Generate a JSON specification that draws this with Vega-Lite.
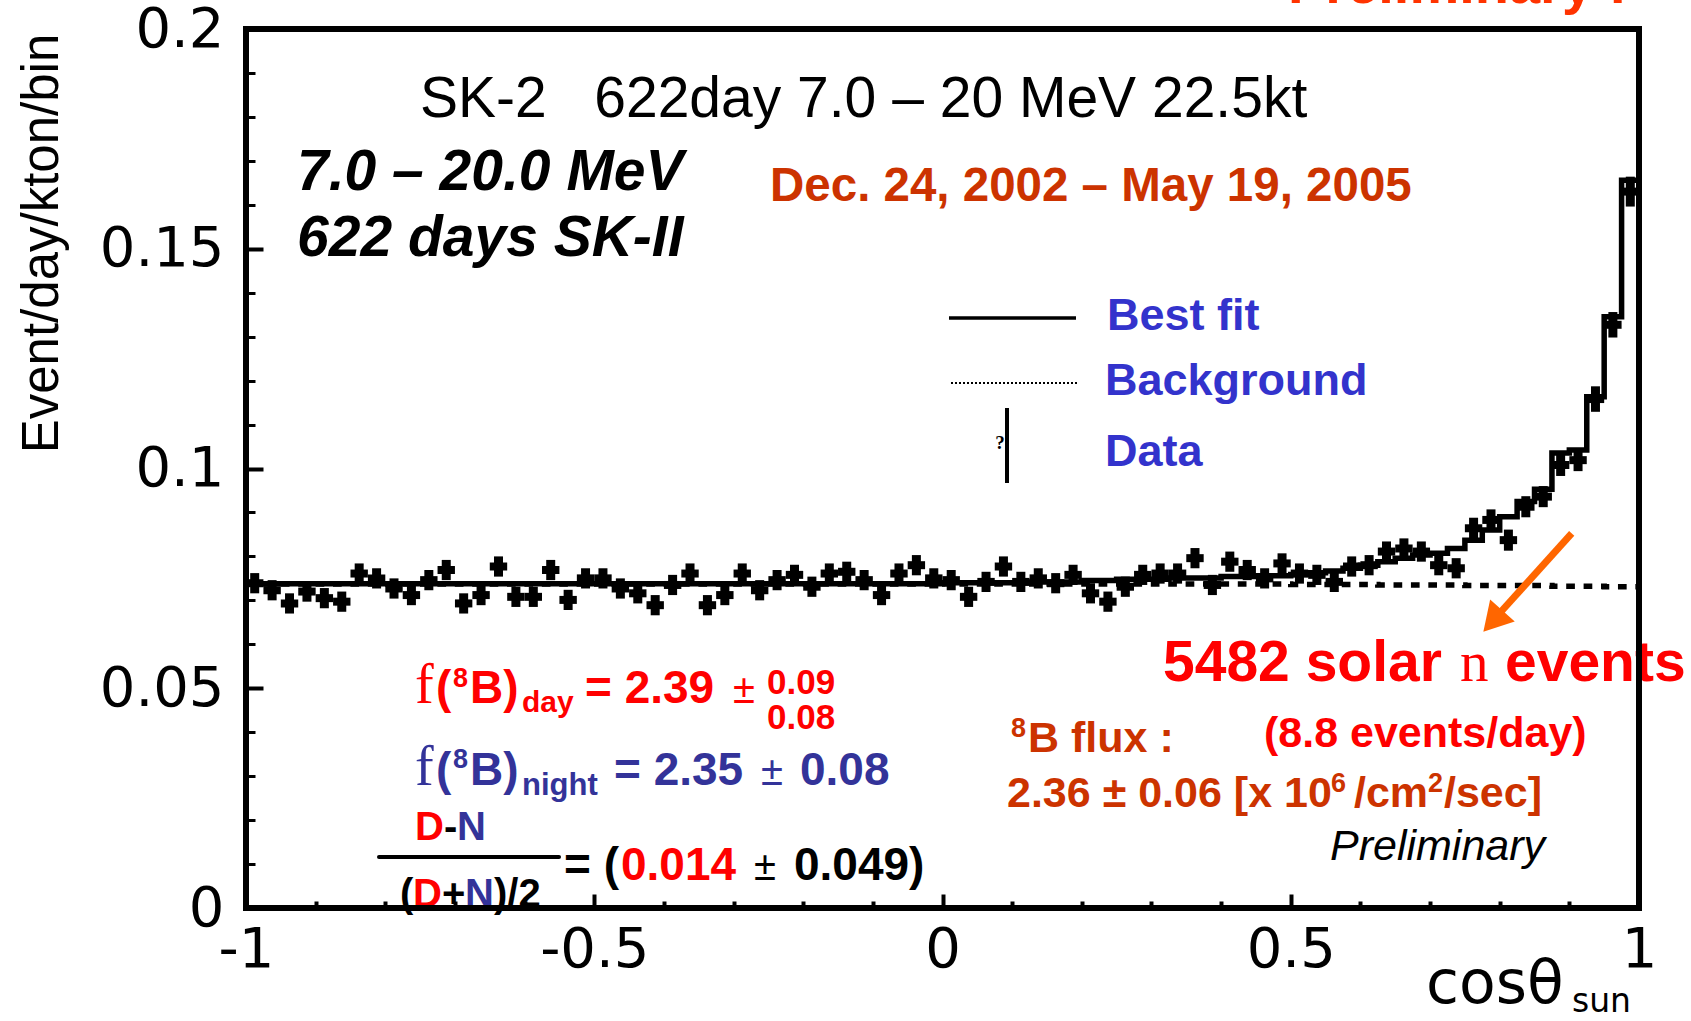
{
  "$schema": "https://vega.github.io/schema/vega-lite/v6.json",
  "width": 1393,
  "height": 879,
  "autosize": {"type": "none"},
  "padding": {"left": 246, "top": 29, "right": 52, "bottom": 113},
  "background": "white",
  "config": {"view": {"stroke": null}},
  "resolve": {"axis": {"x": "independent", "y": "independent"}},
  "datasets": {
    "bins": [
      {"c": -0.9875, "y": 0.0739, "lo": 0.0716, "hi": 0.0762},
      {"c": -0.9625, "y": 0.0723, "lo": 0.0700, "hi": 0.0746},
      {"c": -0.9375, "y": 0.0693, "lo": 0.0670, "hi": 0.0716},
      {"c": -0.9125, "y": 0.0720, "lo": 0.0697, "hi": 0.0743},
      {"c": -0.8875, "y": 0.0705, "lo": 0.0682, "hi": 0.0728},
      {"c": -0.8625, "y": 0.0697, "lo": 0.0674, "hi": 0.0720},
      {"c": -0.8375, "y": 0.0761, "lo": 0.0738, "hi": 0.0784},
      {"c": -0.8125, "y": 0.0750, "lo": 0.0727, "hi": 0.0773},
      {"c": -0.7875, "y": 0.0727, "lo": 0.0704, "hi": 0.0750},
      {"c": -0.7625, "y": 0.0712, "lo": 0.0689, "hi": 0.0735},
      {"c": -0.7375, "y": 0.0746, "lo": 0.0723, "hi": 0.0769},
      {"c": -0.7125, "y": 0.0769, "lo": 0.0746, "hi": 0.0792},
      {"c": -0.6875, "y": 0.0693, "lo": 0.0670, "hi": 0.0716},
      {"c": -0.6625, "y": 0.0712, "lo": 0.0689, "hi": 0.0735},
      {"c": -0.6375, "y": 0.0777, "lo": 0.0754, "hi": 0.0800},
      {"c": -0.6125, "y": 0.0708, "lo": 0.0685, "hi": 0.0731},
      {"c": -0.5875, "y": 0.0708, "lo": 0.0685, "hi": 0.0731},
      {"c": -0.5625, "y": 0.0769, "lo": 0.0746, "hi": 0.0792},
      {"c": -0.5375, "y": 0.0701, "lo": 0.0678, "hi": 0.0724},
      {"c": -0.5125, "y": 0.0750, "lo": 0.0727, "hi": 0.0773},
      {"c": -0.4875, "y": 0.0750, "lo": 0.0727, "hi": 0.0773},
      {"c": -0.4625, "y": 0.0727, "lo": 0.0704, "hi": 0.0750},
      {"c": -0.4375, "y": 0.0716, "lo": 0.0693, "hi": 0.0739},
      {"c": -0.4125, "y": 0.0689, "lo": 0.0666, "hi": 0.0712},
      {"c": -0.3875, "y": 0.0735, "lo": 0.0712, "hi": 0.0758},
      {"c": -0.3625, "y": 0.0761, "lo": 0.0738, "hi": 0.0784},
      {"c": -0.3375, "y": 0.0689, "lo": 0.0666, "hi": 0.0712},
      {"c": -0.3125, "y": 0.0712, "lo": 0.0689, "hi": 0.0735},
      {"c": -0.2875, "y": 0.0761, "lo": 0.0738, "hi": 0.0784},
      {"c": -0.2625, "y": 0.0723, "lo": 0.0700, "hi": 0.0746},
      {"c": -0.2375, "y": 0.0746, "lo": 0.0723, "hi": 0.0769},
      {"c": -0.2125, "y": 0.0758, "lo": 0.0735, "hi": 0.0781},
      {"c": -0.1875, "y": 0.0731, "lo": 0.0708, "hi": 0.0754},
      {"c": -0.1625, "y": 0.0761, "lo": 0.0738, "hi": 0.0784},
      {"c": -0.1375, "y": 0.0765, "lo": 0.0742, "hi": 0.0788},
      {"c": -0.1125, "y": 0.0746, "lo": 0.0723, "hi": 0.0769},
      {"c": -0.0875, "y": 0.0712, "lo": 0.0689, "hi": 0.0735},
      {"c": -0.0625, "y": 0.0761, "lo": 0.0738, "hi": 0.0784},
      {"c": -0.0375, "y": 0.0780, "lo": 0.0757, "hi": 0.0803},
      {"c": -0.0125, "y": 0.0750, "lo": 0.0727, "hi": 0.0773},
      {"c": 0.0125, "y": 0.0746, "lo": 0.0723, "hi": 0.0769},
      {"c": 0.0375, "y": 0.0708, "lo": 0.0685, "hi": 0.0731},
      {"c": 0.0625, "y": 0.0742, "lo": 0.0719, "hi": 0.0765},
      {"c": 0.0875, "y": 0.0777, "lo": 0.0754, "hi": 0.0800},
      {"c": 0.1125, "y": 0.0742, "lo": 0.0719, "hi": 0.0765},
      {"c": 0.1375, "y": 0.0750, "lo": 0.0727, "hi": 0.0773},
      {"c": 0.1625, "y": 0.0739, "lo": 0.0716, "hi": 0.0762},
      {"c": 0.1875, "y": 0.0758, "lo": 0.0735, "hi": 0.0781},
      {"c": 0.2125, "y": 0.0716, "lo": 0.0693, "hi": 0.0739},
      {"c": 0.2375, "y": 0.0697, "lo": 0.0674, "hi": 0.0720},
      {"c": 0.2625, "y": 0.0731, "lo": 0.0708, "hi": 0.0754},
      {"c": 0.2875, "y": 0.0758, "lo": 0.0735, "hi": 0.0781},
      {"c": 0.3125, "y": 0.0761, "lo": 0.0738, "hi": 0.0784},
      {"c": 0.3375, "y": 0.0761, "lo": 0.0738, "hi": 0.0784},
      {"c": 0.3625, "y": 0.0796, "lo": 0.0773, "hi": 0.0819},
      {"c": 0.3875, "y": 0.0735, "lo": 0.0712, "hi": 0.0758},
      {"c": 0.4125, "y": 0.0788, "lo": 0.0765, "hi": 0.0811},
      {"c": 0.4375, "y": 0.0769, "lo": 0.0746, "hi": 0.0792},
      {"c": 0.4625, "y": 0.0750, "lo": 0.0727, "hi": 0.0773},
      {"c": 0.4875, "y": 0.0784, "lo": 0.0761, "hi": 0.0807},
      {"c": 0.5125, "y": 0.0761, "lo": 0.0738, "hi": 0.0784},
      {"c": 0.5375, "y": 0.0758, "lo": 0.0735, "hi": 0.0781},
      {"c": 0.5625, "y": 0.0742, "lo": 0.0719, "hi": 0.0765},
      {"c": 0.5875, "y": 0.0777, "lo": 0.0754, "hi": 0.0800},
      {"c": 0.6125, "y": 0.0780, "lo": 0.0757, "hi": 0.0803},
      {"c": 0.6375, "y": 0.0811, "lo": 0.0788, "hi": 0.0834},
      {"c": 0.6625, "y": 0.0818, "lo": 0.0795, "hi": 0.0841},
      {"c": 0.6875, "y": 0.0811, "lo": 0.0788, "hi": 0.0834},
      {"c": 0.7125, "y": 0.0780, "lo": 0.0757, "hi": 0.0803},
      {"c": 0.7375, "y": 0.0773, "lo": 0.0750, "hi": 0.0796},
      {"c": 0.7625, "y": 0.0864, "lo": 0.0840, "hi": 0.0888},
      {"c": 0.7875, "y": 0.0883, "lo": 0.0859, "hi": 0.0907},
      {"c": 0.8125, "y": 0.0837, "lo": 0.0813, "hi": 0.0861},
      {"c": 0.8375, "y": 0.0913, "lo": 0.0889, "hi": 0.0937},
      {"c": 0.8625, "y": 0.0936, "lo": 0.0912, "hi": 0.0960},
      {"c": 0.8875, "y": 0.1008, "lo": 0.0983, "hi": 0.1033},
      {"c": 0.9125, "y": 0.1019, "lo": 0.0994, "hi": 0.1044},
      {"c": 0.9375, "y": 0.1158, "lo": 0.1129, "hi": 0.1187},
      {"c": 0.9625, "y": 0.1327, "lo": 0.1298, "hi": 0.1356},
      {"c": 0.9875, "y": 0.1630, "lo": 0.1596, "hi": 0.1664}
    ],
    "steps": [
      {"x": -1, "fit": 0.0738, "bg": 0.0737},
      {"x": -0.975, "fit": 0.0738, "bg": 0.0737},
      {"x": -0.95, "fit": 0.0738, "bg": 0.0737},
      {"x": -0.925, "fit": 0.0738, "bg": 0.0737},
      {"x": -0.9, "fit": 0.0738, "bg": 0.0737},
      {"x": -0.875, "fit": 0.0738, "bg": 0.0737},
      {"x": -0.85, "fit": 0.0738, "bg": 0.0737},
      {"x": -0.825, "fit": 0.0738, "bg": 0.0737},
      {"x": -0.8, "fit": 0.0738, "bg": 0.0737},
      {"x": -0.775, "fit": 0.0738, "bg": 0.0737},
      {"x": -0.75, "fit": 0.0738, "bg": 0.0737},
      {"x": -0.725, "fit": 0.0738, "bg": 0.0737},
      {"x": -0.7, "fit": 0.0738, "bg": 0.0737},
      {"x": -0.675, "fit": 0.0738, "bg": 0.0737},
      {"x": -0.65, "fit": 0.0738, "bg": 0.0737},
      {"x": -0.625, "fit": 0.0738, "bg": 0.0737},
      {"x": -0.6, "fit": 0.0738, "bg": 0.0737},
      {"x": -0.575, "fit": 0.0738, "bg": 0.0737},
      {"x": -0.55, "fit": 0.0738, "bg": 0.0737},
      {"x": -0.525, "fit": 0.0738, "bg": 0.0737},
      {"x": -0.5, "fit": 0.0738, "bg": 0.0737},
      {"x": -0.475, "fit": 0.0738, "bg": 0.0737},
      {"x": -0.45, "fit": 0.0738, "bg": 0.0737},
      {"x": -0.425, "fit": 0.0738, "bg": 0.0737},
      {"x": -0.4, "fit": 0.0738, "bg": 0.0737},
      {"x": -0.375, "fit": 0.0738, "bg": 0.0737},
      {"x": -0.35, "fit": 0.0738, "bg": 0.0737},
      {"x": -0.325, "fit": 0.0738, "bg": 0.0737},
      {"x": -0.3, "fit": 0.0738, "bg": 0.0737},
      {"x": -0.275, "fit": 0.0738, "bg": 0.0737},
      {"x": -0.25, "fit": 0.0738, "bg": 0.0737},
      {"x": -0.225, "fit": 0.0738, "bg": 0.0737},
      {"x": -0.2, "fit": 0.0738, "bg": 0.0737},
      {"x": -0.175, "fit": 0.0738, "bg": 0.0737},
      {"x": -0.15, "fit": 0.0738, "bg": 0.0737},
      {"x": -0.125, "fit": 0.0738, "bg": 0.0737},
      {"x": -0.1, "fit": 0.0738, "bg": 0.0737},
      {"x": -0.075, "fit": 0.0738, "bg": 0.0737},
      {"x": -0.05, "fit": 0.0738, "bg": 0.0737},
      {"x": -0.025, "fit": 0.0738, "bg": 0.0737},
      {"x": 0, "fit": 0.0740, "bg": 0.0737},
      {"x": 0.025, "fit": 0.0740, "bg": 0.0737},
      {"x": 0.05, "fit": 0.0740, "bg": 0.0737},
      {"x": 0.075, "fit": 0.0740, "bg": 0.0737},
      {"x": 0.1, "fit": 0.0740, "bg": 0.0737},
      {"x": 0.125, "fit": 0.0742, "bg": 0.0737},
      {"x": 0.15, "fit": 0.0742, "bg": 0.0737},
      {"x": 0.175, "fit": 0.0742, "bg": 0.0737},
      {"x": 0.2, "fit": 0.0745, "bg": 0.0737},
      {"x": 0.225, "fit": 0.0745, "bg": 0.0737},
      {"x": 0.25, "fit": 0.0748, "bg": 0.0737},
      {"x": 0.275, "fit": 0.0748, "bg": 0.0737},
      {"x": 0.3, "fit": 0.0748, "bg": 0.0737},
      {"x": 0.325, "fit": 0.0751, "bg": 0.0737},
      {"x": 0.35, "fit": 0.0751, "bg": 0.0737},
      {"x": 0.375, "fit": 0.0751, "bg": 0.0737},
      {"x": 0.4, "fit": 0.0754, "bg": 0.0737},
      {"x": 0.425, "fit": 0.0754, "bg": 0.0737},
      {"x": 0.45, "fit": 0.0756, "bg": 0.0737},
      {"x": 0.475, "fit": 0.0756, "bg": 0.0737},
      {"x": 0.5, "fit": 0.0759, "bg": 0.0736},
      {"x": 0.525, "fit": 0.0763, "bg": 0.0736},
      {"x": 0.55, "fit": 0.0767, "bg": 0.0736},
      {"x": 0.575, "fit": 0.0773, "bg": 0.0736},
      {"x": 0.6, "fit": 0.0780, "bg": 0.0736},
      {"x": 0.625, "fit": 0.0788, "bg": 0.0735},
      {"x": 0.65, "fit": 0.0796, "bg": 0.0735},
      {"x": 0.675, "fit": 0.0803, "bg": 0.0735},
      {"x": 0.7, "fit": 0.0807, "bg": 0.0735},
      {"x": 0.725, "fit": 0.0818, "bg": 0.0735},
      {"x": 0.75, "fit": 0.0837, "bg": 0.0734},
      {"x": 0.775, "fit": 0.0860, "bg": 0.0734},
      {"x": 0.8, "fit": 0.0890, "bg": 0.0734},
      {"x": 0.825, "fit": 0.0925, "bg": 0.0734},
      {"x": 0.85, "fit": 0.0953, "bg": 0.0734},
      {"x": 0.875, "fit": 0.1035, "bg": 0.0732},
      {"x": 0.9, "fit": 0.1042, "bg": 0.0732},
      {"x": 0.925, "fit": 0.1163, "bg": 0.0732},
      {"x": 0.95, "fit": 0.1345, "bg": 0.0731},
      {"x": 0.975, "fit": 0.1656, "bg": 0.0731},
      {"x": 1, "fit": 0.1656, "bg": 0.0731}
    ]
  },
  "data": {"values": [{}]},
  "layer": [
    {
      "data": {"name": "steps"},
      "mark": {"type": "line", "interpolate": "step-after", "color": "black", "strokeWidth": 5.5, "strokeDash": [8.7, 8.7]},
      "encoding": {
        "x": {"field": "x", "type": "quantitative", "scale": {"domain": [-1, 1], "nice": false, "zero": false},
          "axis": {"orient": "bottom", "values": [-1, -0.5, 0, 0.5, 1], "ticks": false, "domain": false, "grid": false,
            "labelFont": "DejaVu Sans", "labelFontSize": 56, "labelColor": "black", "labelPadding": 14,
            "labelFlush": false, "labelOverlap": false, "labelBound": false,
            "labelExpr": "replace(format(datum.value, '~g'), '\u2212', '-')", "title": null}},
        "y": {"field": "bg", "type": "quantitative", "scale": {"domain": [0, 0.2], "nice": false, "zero": false},
          "axis": {"orient": "left", "values": [0, 0.05, 0.1, 0.15, 0.2], "ticks": false, "domain": false, "grid": false,
            "labelFont": "DejaVu Sans", "labelFontSize": 56, "labelColor": "black", "labelPadding": 22,
            "labelFlush": false, "labelOverlap": false, "labelBound": false,
            "labelExpr": "format(datum.value, '~g')",
            "title": "Event/day/kton/bin", "titleFont": "Liberation Sans", "titleFontSize": 51, "titleFontWeight": "normal",
            "titleColor": "black", "titleAngle": 270, "titleX": -204, "titleY": 214, "titleAlign": "center", "titleBaseline": "middle"}}
      }
    },
    {
      "data": {"name": "steps"},
      "mark": {"type": "line", "interpolate": "step-after", "color": "black", "strokeWidth": 5.5},
      "encoding": {
        "x": {"field": "x", "type": "quantitative",
          "axis": {"orient": "bottom", "values": [-0.5, 0, 0.5], "labels": false, "domain": false, "grid": false, "ticks": true,
            "tickSize": -14, "tickWidth": 4, "tickColor": "black", "title": null}},
        "y": {"field": "fit", "type": "quantitative",
          "axis": {"orient": "left", "values": [0.05, 0.1, 0.15], "labels": false, "domain": false, "grid": false, "ticks": true,
            "tickSize": -17, "tickWidth": 4, "tickColor": "black", "title": null}}
      }
    },
    {
      "data": {"name": "bins"},
      "mark": {"type": "tick", "orient": "horizontal", "size": 17.4, "thickness": 8, "color": "black", "opacity": 1},
      "encoding": {
        "x": {"field": "c", "type": "quantitative",
          "axis": {"orient": "bottom", "values": [-0.9, -0.8, -0.7, -0.6, -0.4, -0.3, -0.2, -0.1, 0.1, 0.2, 0.3, 0.4, 0.6, 0.7, 0.8, 0.9],
            "labels": false, "domain": false, "grid": false, "ticks": true, "tickSize": -7, "tickWidth": 4, "tickColor": "black", "title": null}},
        "y": {"field": "y", "type": "quantitative",
          "axis": {"orient": "left", "values": [0.01, 0.02, 0.03, 0.04, 0.06, 0.07, 0.08, 0.09, 0.11, 0.12, 0.13, 0.14, 0.16, 0.17, 0.18, 0.19],
            "labels": false, "domain": false, "grid": false, "ticks": true, "tickSize": -9, "tickWidth": 3, "tickColor": "black", "title": null}}
      }
    },
    {
      "data": {"name": "bins"},
      "mark": {"type": "rule", "color": "black", "strokeWidth": 9},
      "encoding": {
        "x": {"field": "c", "type": "quantitative", "axis": null},
        "y": {"field": "lo", "type": "quantitative", "axis": null},
        "y2": {"field": "hi"}
      }
    },
    {"mark": {"type": "rule", "color": "black", "strokeWidth": 3.5},
     "encoding": {"x": {"datum": 0.00933, "type": "quantitative", "axis": null}, "x2": {"datum": 0.19167}, "y": {"datum": 0.13424, "type": "quantitative", "axis": null}}},
    {"mark": {"type": "rule", "color": "black", "strokeWidth": 2, "strokeDash": [2, 2]},
     "encoding": {"x": {"datum": 0.0122, "type": "quantitative", "axis": null}, "x2": {"datum": 0.19454}, "y": {"datum": 0.11945, "type": "quantitative", "axis": null}}},
    {"mark": {"type": "rule", "color": "black", "strokeWidth": 4},
     "encoding": {"x": {"datum": 0.09261, "type": "quantitative", "axis": null}, "y": {"datum": 0.0967, "type": "quantitative", "axis": null}, "y2": {"datum": 0.11377}}},
    {"mark": {"type": "text", "text": "?", "font": "Liberation Serif", "fontSize": 19, "fontWeight": "bold", "align": "center", "baseline": "alphabetic", "color": "black"},
     "encoding": {"x": {"datum": 0.08256, "type": "quantitative", "axis": null}, "y": {"datum": 0.10444, "type": "quantitative", "axis": null}}},
    {"mark": {"type": "text", "text": "Best fit", "font": "Liberation Sans", "fontSize": 45, "fontWeight": "bold", "align": "left", "baseline": "alphabetic", "color": "#3333cc"},
     "encoding": {"x": {"datum": 0.23618, "type": "quantitative", "axis": null}, "y": {"datum": 0.13151, "type": "quantitative", "axis": null}}},
    {"mark": {"type": "text", "text": "Background", "font": "Liberation Sans", "fontSize": 45, "fontWeight": "bold", "align": "left", "baseline": "alphabetic", "color": "#3333cc"},
     "encoding": {"x": {"datum": 0.23331, "type": "quantitative", "axis": null}, "y": {"datum": 0.11672, "type": "quantitative", "axis": null}}},
    {"mark": {"type": "text", "text": "Data", "font": "Liberation Sans", "fontSize": 45, "fontWeight": "bold", "align": "left", "baseline": "alphabetic", "color": "#3333cc"},
     "encoding": {"x": {"datum": 0.23331, "type": "quantitative", "axis": null}, "y": {"datum": 0.10057, "type": "quantitative", "axis": null}}},
    {"mark": {"type": "text", "text": "SK-2\u00a0\u00a0\u00a0622day 7.0 \u2013 20 MeV 22.5kt", "font": "Liberation Sans", "fontSize": 57, "align": "left", "baseline": "alphabetic", "color": "black"},
     "encoding": {"x": {"datum": -0.75018, "type": "quantitative", "axis": null}, "y": {"datum": 0.17998, "type": "quantitative", "axis": null}}},
    {"mark": {"type": "text", "text": "7.0 \u2013 20.0 MeV", "font": "Liberation Sans", "fontSize": 57, "fontWeight": "bold", "fontStyle": "italic", "align": "left", "baseline": "alphabetic", "color": "black"},
     "encoding": {"x": {"datum": -0.92678, "type": "quantitative", "axis": null}, "y": {"datum": 0.16337, "type": "quantitative", "axis": null}}},
    {"mark": {"type": "text", "text": "622 days SK-II", "font": "Liberation Sans", "fontSize": 57, "fontWeight": "bold", "fontStyle": "italic", "align": "left", "baseline": "alphabetic", "color": "black"},
     "encoding": {"x": {"datum": -0.92678, "type": "quantitative", "axis": null}, "y": {"datum": 0.14835, "type": "quantitative", "axis": null}}},
    {"mark": {"type": "text", "text": "Dec. 24, 2002 \u2013 May 19, 2005", "font": "Liberation Sans", "fontSize": 47.5, "fontWeight": "bold", "align": "left", "baseline": "alphabetic", "color": "#cc3300"},
     "encoding": {"x": {"datum": -0.24767, "type": "quantitative", "axis": null}, "y": {"datum": 0.16087, "type": "quantitative", "axis": null}}},

    {"mark": {"type": "text", "text": "f", "font": "Liberation Serif", "fontSize": 56, "align": "left", "baseline": "alphabetic", "color": "#ff0000"},
     "encoding": {"x": {"datum": -0.75736, "type": "quantitative", "axis": null}, "y": {"datum": 0.04664, "type": "quantitative", "axis": null}}},
    {"mark": {"type": "text", "text": "(", "font": "Liberation Sans", "fontSize": 46, "fontWeight": "bold", "align": "left", "baseline": "alphabetic", "color": "#ff0000"},
     "encoding": {"x": {"datum": -0.7272, "type": "quantitative", "axis": null}, "y": {"datum": 0.04664, "type": "quantitative", "axis": null}}},
    {"mark": {"type": "text", "text": "8", "font": "Liberation Sans", "fontSize": 27, "fontWeight": "bold", "align": "left", "baseline": "alphabetic", "color": "#ff0000"},
     "encoding": {"x": {"datum": -0.7028, "type": "quantitative", "axis": null}, "y": {"datum": 0.05028, "type": "quantitative", "axis": null}}},
    {"mark": {"type": "text", "text": "B)", "font": "Liberation Sans", "fontSize": 46, "fontWeight": "bold", "align": "left", "baseline": "alphabetic", "color": "#ff0000"},
     "encoding": {"x": {"datum": -0.67839, "type": "quantitative", "axis": null}, "y": {"datum": 0.04664, "type": "quantitative", "axis": null}}},
    {"mark": {"type": "text", "text": "day", "font": "Liberation Sans", "fontSize": 30, "fontWeight": "bold", "align": "left", "baseline": "alphabetic", "color": "#ff0000"},
     "encoding": {"x": {"datum": -0.60373, "type": "quantitative", "axis": null}, "y": {"datum": 0.0446, "type": "quantitative", "axis": null}}},
    {"mark": {"type": "text", "text": "= 2.39", "font": "Liberation Sans", "fontSize": 46, "fontWeight": "bold", "align": "left", "baseline": "alphabetic", "color": "#ff0000"},
     "encoding": {"x": {"datum": -0.51328, "type": "quantitative", "axis": null}, "y": {"datum": 0.04664, "type": "quantitative", "axis": null}}},
    {"mark": {"type": "text", "text": "\u00b1", "font": "Liberation Sans", "fontSize": 40, "align": "left", "baseline": "alphabetic", "color": "#ff0000"},
     "encoding": {"x": {"datum": -0.30079, "type": "quantitative", "axis": null}, "y": {"datum": 0.04664, "type": "quantitative", "axis": null}}},
    {"mark": {"type": "text", "text": "0.09", "font": "Liberation Sans", "fontSize": 35, "fontWeight": "bold", "align": "left", "baseline": "alphabetic", "color": "#ff0000"},
     "encoding": {"x": {"datum": -0.25197, "type": "quantitative", "axis": null}, "y": {"datum": 0.04869, "type": "quantitative", "axis": null}}},
    {"mark": {"type": "text", "text": "0.08", "font": "Liberation Sans", "fontSize": 35, "fontWeight": "bold", "align": "left", "baseline": "alphabetic", "color": "#ff0000"},
     "encoding": {"x": {"datum": -0.25197, "type": "quantitative", "axis": null}, "y": {"datum": 0.04074, "type": "quantitative", "axis": null}}},

    {"mark": {"type": "text", "text": "f", "font": "Liberation Serif", "fontSize": 56, "align": "left", "baseline": "alphabetic", "color": "#333399"},
     "encoding": {"x": {"datum": -0.75736, "type": "quantitative", "axis": null}, "y": {"datum": 0.02799, "type": "quantitative", "axis": null}}},
    {"mark": {"type": "text", "text": "(", "font": "Liberation Sans", "fontSize": 46, "fontWeight": "bold", "align": "left", "baseline": "alphabetic", "color": "#333399"},
     "encoding": {"x": {"datum": -0.7272, "type": "quantitative", "axis": null}, "y": {"datum": 0.02799, "type": "quantitative", "axis": null}}},
    {"mark": {"type": "text", "text": "8", "font": "Liberation Sans", "fontSize": 27, "fontWeight": "bold", "align": "left", "baseline": "alphabetic", "color": "#333399"},
     "encoding": {"x": {"datum": -0.7028, "type": "quantitative", "axis": null}, "y": {"datum": 0.03185, "type": "quantitative", "axis": null}}},
    {"mark": {"type": "text", "text": "B)", "font": "Liberation Sans", "fontSize": 46, "fontWeight": "bold", "align": "left", "baseline": "alphabetic", "color": "#333399"},
     "encoding": {"x": {"datum": -0.67839, "type": "quantitative", "axis": null}, "y": {"datum": 0.02799, "type": "quantitative", "axis": null}}},
    {"mark": {"type": "text", "text": "night", "font": "Liberation Sans", "fontSize": 31, "fontWeight": "bold", "align": "left", "baseline": "alphabetic", "color": "#333399"},
     "encoding": {"x": {"datum": -0.60373, "type": "quantitative", "axis": null}, "y": {"datum": 0.02571, "type": "quantitative", "axis": null}}},
    {"mark": {"type": "text", "text": "= 2.35", "font": "Liberation Sans", "fontSize": 46, "fontWeight": "bold", "align": "left", "baseline": "alphabetic", "color": "#333399"},
     "encoding": {"x": {"datum": -0.47164, "type": "quantitative", "axis": null}, "y": {"datum": 0.02799, "type": "quantitative", "axis": null}}},
    {"mark": {"type": "text", "text": "\u00b1", "font": "Liberation Sans", "fontSize": 40, "align": "left", "baseline": "alphabetic", "color": "#333399"},
     "encoding": {"x": {"datum": -0.26059, "type": "quantitative", "axis": null}, "y": {"datum": 0.02799, "type": "quantitative", "axis": null}}},
    {"mark": {"type": "text", "text": "0.08", "font": "Liberation Sans", "fontSize": 46, "fontWeight": "bold", "align": "left", "baseline": "alphabetic", "color": "#333399"},
     "encoding": {"x": {"datum": -0.20459, "type": "quantitative", "axis": null}, "y": {"datum": 0.02799, "type": "quantitative", "axis": null}}},

    {"mark": {"type": "text", "text": "D", "font": "Liberation Sans", "fontSize": 40, "fontWeight": "bold", "align": "left", "baseline": "alphabetic", "color": "#ff0000"},
     "encoding": {"x": {"datum": -0.75736, "type": "quantitative", "axis": null}, "y": {"datum": 0.01547, "type": "quantitative", "axis": null}}},
    {"mark": {"type": "text", "text": "-", "font": "Liberation Sans", "fontSize": 40, "fontWeight": "bold", "align": "left", "baseline": "alphabetic", "color": "black"},
     "encoding": {"x": {"datum": -0.71572, "type": "quantitative", "axis": null}, "y": {"datum": 0.01547, "type": "quantitative", "axis": null}}},
    {"mark": {"type": "text", "text": "N", "font": "Liberation Sans", "fontSize": 40, "fontWeight": "bold", "align": "left", "baseline": "alphabetic", "color": "#333399"},
     "encoding": {"x": {"datum": -0.69705, "type": "quantitative", "axis": null}, "y": {"datum": 0.01547, "type": "quantitative", "axis": null}}},
    {"mark": {"type": "rule", "color": "black", "strokeWidth": 4, "strokeCap": "round"},
     "encoding": {"x": {"datum": -0.80905, "type": "quantitative", "axis": null}, "x2": {"datum": -0.55061}, "y": {"datum": 0.0116, "type": "quantitative", "axis": null}}},
    {"mark": {"type": "text", "text": "= (", "font": "Liberation Sans", "fontSize": 46, "fontWeight": "bold", "align": "left", "baseline": "alphabetic", "color": "black"},
     "encoding": {"x": {"datum": -0.54343, "type": "quantitative", "axis": null}, "y": {"datum": 0.00637, "type": "quantitative", "axis": null}}},
    {"mark": {"type": "text", "text": "0.014", "font": "Liberation Sans", "fontSize": 46, "fontWeight": "bold", "align": "left", "baseline": "alphabetic", "color": "#ff0000"},
     "encoding": {"x": {"datum": -0.46159, "type": "quantitative", "axis": null}, "y": {"datum": 0.00637, "type": "quantitative", "axis": null}}},
    {"mark": {"type": "text", "text": "\u00b1", "font": "Liberation Sans", "fontSize": 40, "align": "left", "baseline": "alphabetic", "color": "black"},
     "encoding": {"x": {"datum": -0.27064, "type": "quantitative", "axis": null}, "y": {"datum": 0.00637, "type": "quantitative", "axis": null}}},
    {"mark": {"type": "text", "text": "0.049)", "font": "Liberation Sans", "fontSize": 46, "fontWeight": "bold", "align": "left", "baseline": "alphabetic", "color": "black"},
     "encoding": {"x": {"datum": -0.21321, "type": "quantitative", "axis": null}, "y": {"datum": 0.00637, "type": "quantitative", "axis": null}}},
    {"mark": {"type": "text", "text": "(", "font": "Liberation Sans", "fontSize": 40, "fontWeight": "bold", "align": "left", "baseline": "alphabetic", "color": "black"},
     "encoding": {"x": {"datum": -0.7789, "type": "quantitative", "axis": null}, "y": {"datum": 0.00023, "type": "quantitative", "axis": null}}},
    {"mark": {"type": "text", "text": "D", "font": "Liberation Sans", "fontSize": 40, "fontWeight": "bold", "align": "left", "baseline": "alphabetic", "color": "#ff0000"},
     "encoding": {"x": {"datum": -0.76023, "type": "quantitative", "axis": null}, "y": {"datum": 0.00023, "type": "quantitative", "axis": null}}},
    {"mark": {"type": "text", "text": "+", "font": "Liberation Sans", "fontSize": 40, "fontWeight": "bold", "align": "left", "baseline": "alphabetic", "color": "black"},
     "encoding": {"x": {"datum": -0.71859, "type": "quantitative", "axis": null}, "y": {"datum": 0.00023, "type": "quantitative", "axis": null}}},
    {"mark": {"type": "text", "text": "N", "font": "Liberation Sans", "fontSize": 40, "fontWeight": "bold", "align": "left", "baseline": "alphabetic", "color": "#333399"},
     "encoding": {"x": {"datum": -0.68557, "type": "quantitative", "axis": null}, "y": {"datum": 0.00023, "type": "quantitative", "axis": null}}},
    {"mark": {"type": "text", "text": ")/2", "font": "Liberation Sans", "fontSize": 40, "fontWeight": "bold", "align": "left", "baseline": "alphabetic", "color": "black"},
     "encoding": {"x": {"datum": -0.64393, "type": "quantitative", "axis": null}, "y": {"datum": 0.00023, "type": "quantitative", "axis": null}}},

    {"mark": {"type": "text", "text": "5482 solar", "font": "Liberation Sans", "fontSize": 57, "fontWeight": "bold", "align": "left", "baseline": "alphabetic", "color": "#ff0000"},
     "encoding": {"x": {"datum": 0.31658, "type": "quantitative", "axis": null}, "y": {"datum": 0.05165, "type": "quantitative", "axis": null}}},
    {"mark": {"type": "text", "text": "n", "font": "Liberation Serif", "fontSize": 57, "align": "left", "baseline": "alphabetic", "color": "#ff0000"},
     "encoding": {"x": {"datum": 0.743, "type": "quantitative", "axis": null}, "y": {"datum": 0.05165, "type": "quantitative", "axis": null}}},
    {"mark": {"type": "text", "text": "events", "font": "Liberation Sans", "fontSize": 57, "fontWeight": "bold", "align": "left", "baseline": "alphabetic", "color": "#ff0000"},
     "encoding": {"x": {"datum": 0.80761, "type": "quantitative", "axis": null}, "y": {"datum": 0.05165, "type": "quantitative", "axis": null}}},
    {"mark": {"type": "text", "text": "(8.8 events/day)", "font": "Liberation Sans", "fontSize": 43, "fontWeight": "bold", "align": "left", "baseline": "alphabetic", "color": "#ff0000"},
     "encoding": {"x": {"datum": 0.46159, "type": "quantitative", "axis": null}, "y": {"datum": 0.03663, "type": "quantitative", "axis": null}}},
    {"mark": {"type": "text", "text": "8", "font": "Liberation Sans", "fontSize": 27, "fontWeight": "bold", "align": "left", "baseline": "alphabetic", "color": "#cc3300"},
     "encoding": {"x": {"datum": 0.09835, "type": "quantitative", "axis": null}, "y": {"datum": 0.03891, "type": "quantitative", "axis": null}}},
    {"mark": {"type": "text", "text": "B flux :", "font": "Liberation Sans", "fontSize": 43, "fontWeight": "bold", "align": "left", "baseline": "alphabetic", "color": "#cc3300"},
     "encoding": {"x": {"datum": 0.12276, "type": "quantitative", "axis": null}, "y": {"datum": 0.03549, "type": "quantitative", "axis": null}}},
    {"mark": {"type": "text", "text": "2.36 \u00b1 0.06 [x 10", "font": "Liberation Sans", "fontSize": 43, "fontWeight": "bold", "align": "left", "baseline": "alphabetic", "color": "#cc3300"},
     "encoding": {"x": {"datum": 0.09261, "type": "quantitative", "axis": null}, "y": {"datum": 0.02298, "type": "quantitative", "axis": null}}},
    {"mark": {"type": "text", "text": "6", "font": "Liberation Sans", "fontSize": 27, "fontWeight": "bold", "align": "left", "baseline": "alphabetic", "color": "#cc3300"},
     "encoding": {"x": {"datum": 0.55779, "type": "quantitative", "axis": null}, "y": {"datum": 0.02639, "type": "quantitative", "axis": null}}},
    {"mark": {"type": "text", "text": "/cm", "font": "Liberation Sans", "fontSize": 43, "fontWeight": "bold", "align": "left", "baseline": "alphabetic", "color": "#cc3300"},
     "encoding": {"x": {"datum": 0.59081, "type": "quantitative", "axis": null}, "y": {"datum": 0.02298, "type": "quantitative", "axis": null}}},
    {"mark": {"type": "text", "text": "2", "font": "Liberation Sans", "fontSize": 27, "fontWeight": "bold", "align": "left", "baseline": "alphabetic", "color": "#cc3300"},
     "encoding": {"x": {"datum": 0.69706, "type": "quantitative", "axis": null}, "y": {"datum": 0.02639, "type": "quantitative", "axis": null}}},
    {"mark": {"type": "text", "text": "/sec]", "font": "Liberation Sans", "fontSize": 43, "fontWeight": "bold", "align": "left", "baseline": "alphabetic", "color": "#cc3300"},
     "encoding": {"x": {"datum": 0.72003, "type": "quantitative", "axis": null}, "y": {"datum": 0.02298, "type": "quantitative", "axis": null}}},
    {"mark": {"type": "text", "text": "Preliminary", "font": "Liberation Sans", "fontSize": 43, "fontStyle": "italic", "align": "left", "baseline": "alphabetic", "color": "black"},
     "encoding": {"x": {"datum": 0.55635, "type": "quantitative", "axis": null}, "y": {"datum": 0.01092, "type": "quantitative", "axis": null}}},
    {"mark": {"type": "text", "text": "Preliminary !", "font": "Liberation Sans", "fontSize": 56, "fontWeight": "bold", "align": "left", "baseline": "alphabetic", "color": "#ff3300"},
     "encoding": {"x": {"datum": 0.49605, "type": "quantitative", "axis": null}, "y": {"datum": 0.20592, "type": "quantitative", "axis": null}}},
    {"mark": {"type": "text", "text": "cos\u03b8", "font": "DejaVu Sans", "fontSize": 60, "align": "left", "baseline": "alphabetic", "color": "black"},
     "encoding": {"x": {"datum": 0.6942, "type": "quantitative", "axis": null}, "y": {"datum": -0.02162, "type": "quantitative", "axis": null}}},
    {"mark": {"type": "text", "text": "sun", "font": "DejaVu Sans", "fontSize": 33, "align": "left", "baseline": "alphabetic", "color": "black"},
     "encoding": {"x": {"datum": 0.9038, "type": "quantitative", "axis": null}, "y": {"datum": -0.02366, "type": "quantitative", "axis": null}}},

    {"mark": {"type": "rule", "color": "#ff6600", "strokeWidth": 7},
     "encoding": {"x": {"datum": 0.90338, "type": "quantitative", "axis": null}, "y": {"datum": 0.08526, "type": "quantitative", "axis": null}, "x2": {"datum": 0.79756}, "y2": {"datum": 0.06667}}},
    {"mark": {"type": "point", "shape": "triangle-up", "filled": true, "size": 1089, "angle": 221.9, "color": "#ff6600", "opacity": 1, "strokeWidth": 0},
     "encoding": {"x": {"datum": 0.79024, "type": "quantitative", "axis": null}, "y": {"datum": 0.06528, "type": "quantitative", "axis": null}}},

    {"mark": {"type": "rule", "color": "black", "strokeWidth": 6, "strokeCap": "square"},
     "encoding": {"x": {"datum": -1, "type": "quantitative", "axis": null}, "y": {"datum": 0, "type": "quantitative", "axis": null}, "y2": {"datum": 0.2}}},
    {"mark": {"type": "rule", "color": "black", "strokeWidth": 6, "strokeCap": "square"},
     "encoding": {"x": {"datum": 1, "type": "quantitative", "axis": null}, "y": {"datum": 0, "type": "quantitative", "axis": null}, "y2": {"datum": 0.2}}},
    {"mark": {"type": "rule", "color": "black", "strokeWidth": 6, "strokeCap": "square"},
     "encoding": {"x": {"datum": -1, "type": "quantitative", "axis": null}, "x2": {"datum": 1}, "y": {"datum": 0, "type": "quantitative", "axis": null}}},
    {"mark": {"type": "rule", "color": "black", "strokeWidth": 6, "strokeCap": "square"},
     "encoding": {"x": {"datum": -1, "type": "quantitative", "axis": null}, "x2": {"datum": 1}, "y": {"datum": 0.2, "type": "quantitative", "axis": null}}}
  ]
}
